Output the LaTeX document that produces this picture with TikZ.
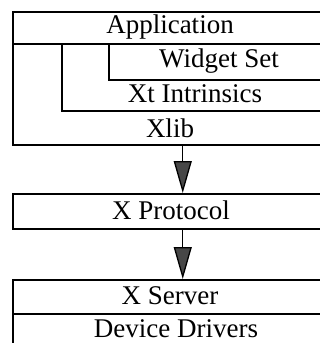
\documentclass[tikz,border=0pt]{standalone}
\usepackage{fontspec}
\setmainfont{Liberation Serif}
\usepackage{tikz}
\usetikzlibrary{arrows.meta}

\begin{document}
\begin{tikzpicture}[x=1pt, y=-1pt,
        layer/.style={draw, line width=1.5pt, anchor=north west, inner sep=0pt, minimum width=317pt},
        lbl/.style={inner sep=0pt, font=\fontsize{27}{30}\selectfont},
        flow/.style={-{Triangle[length=32pt, width=18pt, fill=black!72]}, line width=1.3pt}
    ]
        \clip (0,0) rectangle (320,343);

        % client side
        \node[layer, minimum height=133pt] (xlib) at (12,11) {};
        \node[layer, minimum height=32pt] (app) at (12,11) {};
        \node[layer, minimum width=268pt, minimum height=67pt] (xt) at (61,43) {};
        \node[layer, minimum width=221pt, minimum height=36pt] (widget) at (108,43) {};

        \node[lbl] (applbl) at (170,27) {Application};
        \node[lbl] (widgetlbl) at (219,61) {Widget Set};
        \node[lbl] (xtlbl) at (195,94) {Xt Intrinsics};
        \node[lbl] (xliblbl) at (170,128) {Xlib};

        % protocol
        \node[layer, minimum height=35pt] (proto) at (12,193) {};
        \node[lbl] (protolbl) at (171,210) {X Protocol};

        % server side
        \node[layer, minimum height=34pt] (server) at (12,279) {};
        \node[layer, minimum height=50pt] (drivers) at (12,313) {};
        \node[lbl] (serverlbl) at (170,296) {X Server};
        \node[lbl] (driverslbl) at (176,329) {Device Drivers};

        \draw[flow] ([xshift=11.5pt]xlib.south) -- ([xshift=11.5pt]proto.north);
        \draw[flow] ([xshift=11.5pt]proto.south) -- ([xshift=11.5pt]server.north);
    \end{tikzpicture}
\end{document}
